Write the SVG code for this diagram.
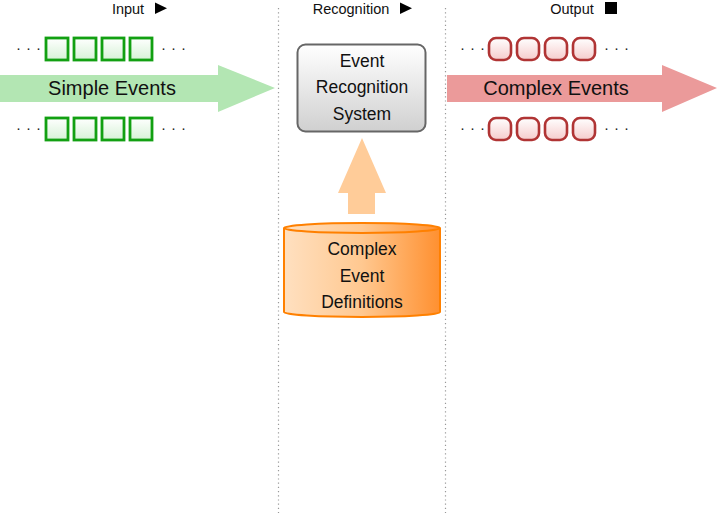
<svg xmlns="http://www.w3.org/2000/svg" width="717" height="513" viewBox="0 0 717 513">
  <defs>
    <linearGradient id="gSimple" x1="0" y1="0" x2="0" y2="1">
      <stop offset="0" stop-color="#ffffff"/>
      <stop offset="1" stop-color="#d6f2d6"/>
    </linearGradient>
    <linearGradient id="gComplex" x1="0" y1="0" x2="0" y2="1">
      <stop offset="0" stop-color="#ffffff"/>
      <stop offset="1" stop-color="#f5cccc"/>
    </linearGradient>
    <linearGradient id="gSystem" x1="0" y1="0" x2="0" y2="1">
      <stop offset="0" stop-color="#ffffff"/>
      <stop offset="1" stop-color="#d0d0d0"/>
    </linearGradient>
    <linearGradient id="gDb" x1="0" y1="0" x2="1" y2="0">
      <stop offset="0" stop-color="#ffe0c0"/>
      <stop offset="0.5" stop-color="#ffc890"/>
      <stop offset="1" stop-color="#ff9030"/>
    </linearGradient>
  </defs>
  <style>
    text { font-family: "Liberation Sans", "DejaVu Sans", sans-serif; fill: #111; text-anchor: middle; }
    .hdr { font-size: 14.5px; }
    .big { font-size: 20px; }
    .mid { font-size: 17.5px; }
    .dots { font-size: 15px; letter-spacing: 5px; fill: #222; }
    .sep { stroke: #999; stroke-width: 1.2; stroke-dasharray: 1.2 3; }
    .sev { fill: url(#gSimple); stroke: #12a012; stroke-width: 2.8; }
    .cev { fill: url(#gComplex); stroke: #b03434; stroke-width: 2.6; }
  </style>

  <!-- stage separators -->
  <line class="sep" x1="278.5" y1="8" x2="278.5" y2="513"/>
  <line class="sep" x1="445.5" y1="8" x2="445.5" y2="513"/>

  <!-- stage headers -->
  <g id="headers">
    <text class="hdr" x="128" y="14">Input</text>
    <polygon points="155,2.5 155,14 167,8.2" fill="#000"/>
    <text class="hdr" x="351" y="14">Recognition</text>
    <polygon points="400,2.5 400,14 412,8.2" fill="#000"/>
    <text class="hdr" x="572" y="14">Output</text>
    <rect x="605" y="2" width="12" height="12" fill="#000"/>
  </g>

  <!-- connectors -->
  <g id="connectors">
    <polygon id="simple-flow" points="0,75 218,75 218,65 275,88 218,112 218,102 0,102" fill="#b3e6b3"/>
    <polygon id="complex-flow" points="447,75 662,75 662,65 717,88 662,112 662,102 447,102" fill="#eb9a9a"/>
    <polygon id="def-flow" points="348,214 348,193 338,193 362,138 386,193 375,193 375,214" fill="#ffcc99"/>
  </g>

  <g id="simple-events">
    <text class="big" x="112" y="95">Simple Events</text>
    <text class="dots" x="31" y="53">···</text>
    <text class="dots" x="176" y="53">···</text>
    <rect class="sev" x="46" y="38" width="22" height="22"/>
    <rect class="sev" x="74" y="38" width="22" height="22"/>
    <rect class="sev" x="102" y="38" width="22" height="22"/>
    <rect class="sev" x="130" y="38" width="22" height="22"/>
    <text class="dots" x="31" y="133">···</text>
    <text class="dots" x="176" y="133">···</text>
    <rect class="sev" x="46" y="118" width="22" height="22"/>
    <rect class="sev" x="74" y="118" width="22" height="22"/>
    <rect class="sev" x="102" y="118" width="22" height="22"/>
    <rect class="sev" x="130" y="118" width="22" height="22"/>
  </g>

  <g id="event-recognition-system">
    <rect x="297.5" y="44.5" width="128" height="87" rx="8" fill="url(#gSystem)" stroke="#666" stroke-width="2"/>
    <text class="mid" x="362" y="67">Event</text>
    <text class="mid" x="362" y="93">Recognition</text>
    <text class="mid" x="362" y="120">System</text>
  </g>

  <g id="complex-events">
    <text class="big" x="556" y="95">Complex Events</text>
    <text class="dots" x="475" y="53">···</text>
    <text class="dots" x="619" y="53">···</text>
    <rect class="cev" x="489" y="38" width="22" height="22" rx="7"/>
    <rect class="cev" x="517" y="38" width="22" height="22" rx="7"/>
    <rect class="cev" x="545" y="38" width="22" height="22" rx="7"/>
    <rect class="cev" x="573" y="38" width="22" height="22" rx="7"/>
    <text class="dots" x="475" y="133">···</text>
    <text class="dots" x="619" y="133">···</text>
    <rect class="cev" x="489" y="118" width="22" height="22" rx="7"/>
    <rect class="cev" x="517" y="118" width="22" height="22" rx="7"/>
    <rect class="cev" x="545" y="118" width="22" height="22" rx="7"/>
    <rect class="cev" x="573" y="118" width="22" height="22" rx="7"/>
  </g>

  <g id="complex-event-definitions">
    <path d="M284,228 L284,312 A78,5 0 0 0 440,312 L440,228 A78,5 0 0 0 284,228 Z" fill="url(#gDb)" stroke="#ff8000" stroke-width="2"/>
    <path d="M284,228 A78,5 0 0 0 440,228" fill="none" stroke="#ff8000" stroke-width="2"/>
    <text class="mid" x="362" y="255">Complex</text>
    <text class="mid" x="362" y="282">Event</text>
    <text class="mid" x="362" y="308">Definitions</text>
  </g>
</svg>
